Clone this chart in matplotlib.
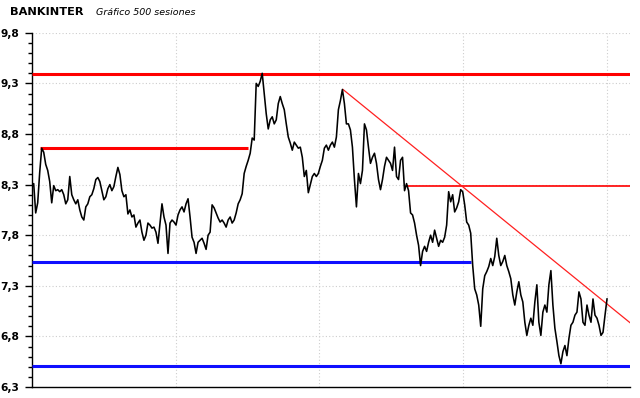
import matplotlib

matplotlib.use("Agg")

import matplotlib.pyplot as plt
import numpy as np
from matplotlib.ticker import FixedLocator, MultipleLocator


# cotizacion de cierre, 500 sesiones (muestreo regular)
precio = [
    8.27, 8.31, 8.02, 8.12, 8.42, 8.66, 8.62, 8.50, 8.44, 8.33,
    8.12, 8.29, 8.24, 8.25, 8.23, 8.25, 8.20, 8.11, 8.15, 8.38,
    8.20, 8.15, 8.11, 8.15, 8.05, 7.98, 7.95, 8.08, 8.11, 8.18,
    8.20, 8.26, 8.35, 8.37, 8.33, 8.24, 8.15, 8.18, 8.26, 8.30,
    8.24, 8.28, 8.38, 8.47, 8.40, 8.24, 8.18, 8.20, 8.01,
    8.05, 7.98, 8.00, 7.88, 7.92, 7.95, 7.83, 7.75, 7.80, 7.92,
    7.90, 7.87, 7.88, 7.83, 7.72, 7.92, 8.11, 7.98, 7.90, 7.62,
    7.92, 7.95, 7.93, 7.90, 8.00, 8.05, 8.08, 8.03, 8.11, 8.16,
    7.98, 7.78, 7.73, 7.62, 7.73, 7.75, 7.77, 7.72, 7.66, 7.80,
    7.83, 8.10, 8.07, 8.02, 7.97, 7.93, 7.95,
    7.92, 7.88, 7.95, 7.98, 7.92, 7.95, 8.02, 8.11, 8.15, 8.21,
    8.41, 8.48, 8.54, 8.61, 8.76, 8.74, 9.30, 9.27, 9.32, 9.40,
    9.20, 9.00, 8.85, 8.94, 8.97, 8.90, 8.94, 9.10, 9.17, 9.10,
    9.04, 8.90, 8.77, 8.71, 8.64, 8.72, 8.69, 8.66, 8.67, 8.57,
    8.38, 8.44, 8.22, 8.30, 8.38, 8.41, 8.38, 8.41,
    8.48, 8.54, 8.66, 8.69, 8.64, 8.69, 8.72, 8.67, 8.77, 9.04,
    9.13, 9.24, 9.10, 8.90, 8.90, 8.84, 8.67, 8.35, 8.08, 8.41,
    8.31, 8.44, 8.90, 8.84, 8.67, 8.51, 8.57, 8.61, 8.51, 8.35,
    8.25, 8.35, 8.48, 8.57, 8.54, 8.51, 8.44, 8.67, 8.38, 8.35,
    8.54, 8.57, 8.24, 8.31, 8.24, 8.02, 8.00, 7.92,
    7.80, 7.70, 7.50, 7.64, 7.69, 7.64, 7.73, 7.80, 7.73, 7.85,
    7.77, 7.69, 7.75, 7.73, 7.78, 7.90, 8.23, 8.13, 8.20, 8.03,
    8.07, 8.13, 8.25, 8.23, 8.10, 7.93, 7.90, 7.82, 7.50, 7.27,
    7.21, 7.11, 6.90, 7.27, 7.40, 7.44, 7.49, 7.57, 7.50, 7.59,
    7.77, 7.60, 7.50, 7.54, 7.60,
    7.50, 7.44, 7.37, 7.21, 7.11, 7.24, 7.34, 7.21, 7.14, 6.94,
    6.81, 6.91, 6.98, 6.91, 7.14, 7.31, 6.94, 6.81, 7.04, 7.11,
    7.04, 7.31, 7.45, 7.11, 6.88, 6.75, 6.61, 6.53, 6.65, 6.71,
    6.61, 6.78, 6.91, 6.94, 7.01, 7.04, 7.24, 7.17, 6.94, 6.91,
    7.11, 7.01, 6.94, 7.17, 7.01, 6.98, 6.91, 6.81, 6.84, 7.01,
    7.17,
]

# resistencias / soportes horizontales: (nivel, sesion inicio, sesion fin)
resistencias = [(9.39, 0, 519), (8.66, 7, 188)]
resistencia_fina = [(8.285, 325, 519)]
soportes = [(7.54, 0, 381), (6.51, 0, 519)]

# directriz bajista: (sesion, precio)
directriz_x = [270, 519]
directriz_y = [9.24, 6.935]

y_ticks = [6.3, 6.8, 7.3, 7.8, 8.3, 8.8, 9.3, 9.8]
y_labels = ["6,3", "6,8", "7,3", "7,8", "8,3", "8,8", "9,3", "9,8"]
x_grid = [124.75, 249.5, 374.25, 499]


fig = plt.figure(figsize=(6.4, 3.98), dpi=100)
fig.patch.set_facecolor("white")
ax = fig.add_axes([0.0495, 0.0276, 0.935, 0.890])

sesiones = np.linspace(0, 499, len(precio))

for nivel, x0, x1 in resistencias:
    ax.plot([x0, x1], [nivel, nivel], color="#ff0000", lw=2.2, solid_capstyle="butt", zorder=3)
for nivel, x0, x1 in resistencia_fina:
    ax.plot([x0, x1], [nivel, nivel], color="#ff0000", lw=1.2, solid_capstyle="butt", zorder=3)
for nivel, x0, x1 in soportes:
    ax.plot([x0, x1], [nivel, nivel], color="#1010ff", lw=2.2, solid_capstyle="butt", zorder=3)
ax.plot(directriz_x, directriz_y, color="#ff2020", lw=0.9, zorder=3)

ax.plot(sesiones, precio, color="black", lw=1.15, zorder=4)

ax.set_xlim(0, 519)
ax.set_ylim(6.3, 9.8)

ax.set_yticks(y_ticks)
ax.set_yticklabels(y_labels, fontsize=7.7, fontweight="bold", family="DejaVu Sans")
ax.yaxis.set_minor_locator(MultipleLocator(0.1))
ax.tick_params(axis="y", which="major", length=5, width=1, pad=4, colors="black")
ax.tick_params(axis="y", which="minor", length=3, width=1)

ax.xaxis.set_major_locator(FixedLocator(x_grid))
ax.tick_params(axis="x", which="both", length=0, labelbottom=False)

ax.grid(True, which="major", color="#cdcdcd", linestyle=(0, (1, 2)), lw=0.8, zorder=0)

for side in ("top", "right"):
    ax.spines[side].set_visible(False)
for side in ("left", "bottom"):
    ax.spines[side].set_color("black")
    ax.spines[side].set_linewidth(1.0)

fig.text(10 / 640, 1 - 15 / 398, "BANKINTER", fontsize=8.2, fontweight="bold",
         family="DejaVu Sans", ha="left", va="baseline")
fig.text(96 / 640, 1 - 15 / 398, "Gráfico 500 sesiones", fontsize=6.8, style="italic",
         family="DejaVu Sans", ha="left", va="baseline")

fig.savefig("out.png", dpi=100, facecolor="white")
plt.close(fig)
